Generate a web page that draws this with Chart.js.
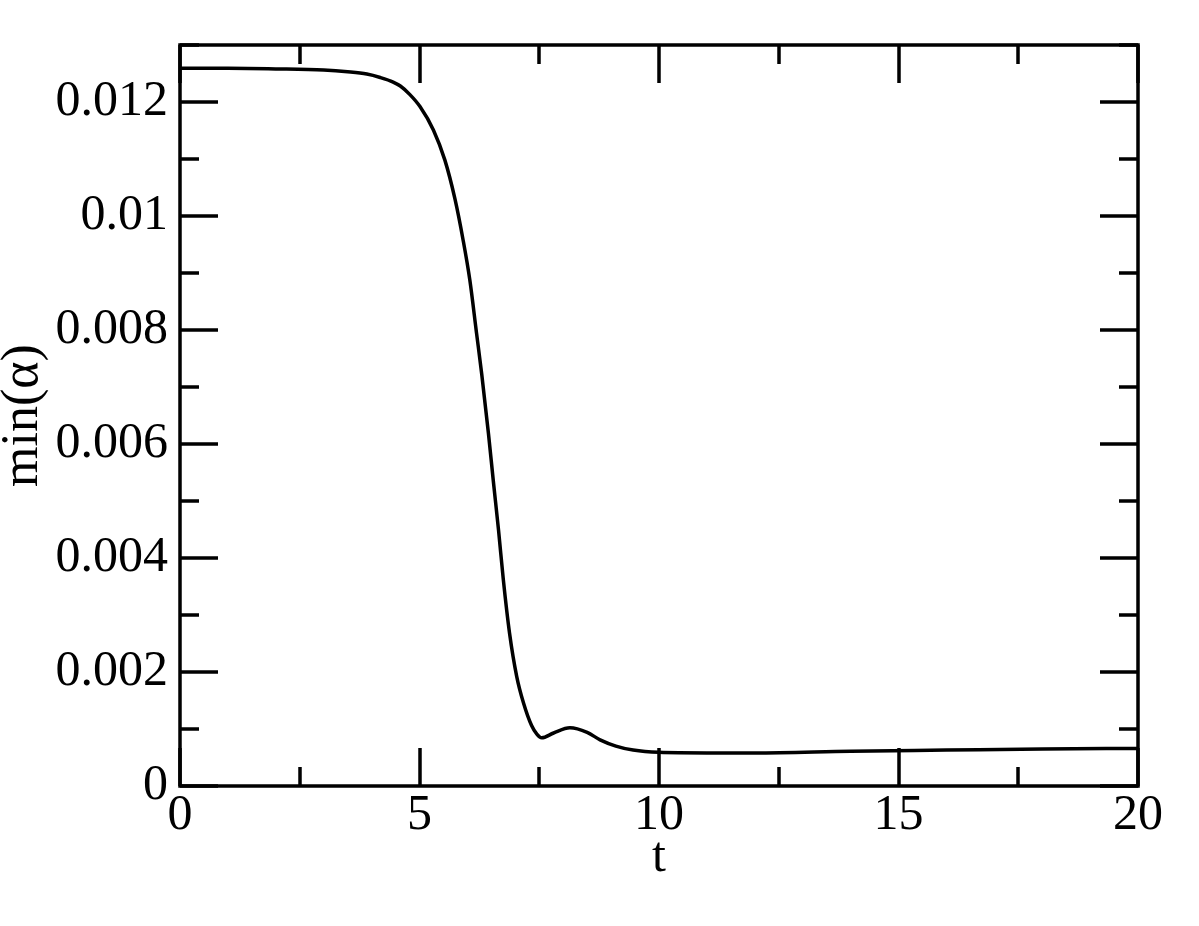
<!DOCTYPE html>
<html>
<head>
<meta charset="utf-8">
<script src="https://cdn.jsdelivr.net/npm/chart.js@4"></script>
<style>
  html, body { margin: 0; padding: 0; background: #fff; }
  #wrap { width: 1199px; height: 926px; }
</style>
</head>
<body>
<div id="wrap"><canvas id="myChart" width="1199" height="926"></canvas></div>
<script>
// values
var tValues = [0, 1, 2, 3, 3.5, 3.9, 4.18, 4.45, 4.6, 4.8, 5.01, 5.29, 5.53, 5.74, 5.91, 6.05, 6.19, 6.3, 6.44,
               6.54, 6.65, 6.75, 6.88, 7.03, 7.17, 7.34, 7.45, 7.55, 7.8, 8.14, 8.5, 8.77, 9.1, 9.46, 10, 11, 12, 14, 16, 18, 20];
var alphaValues = [0.01259, 0.01259, 0.01258, 0.01256, 0.01253, 0.01249, 0.01243, 0.01235, 0.01228, 0.01213, 0.01192, 0.01151, 0.01098, 0.0103, 0.00958, 0.00888, 0.00795, 0.00722, 0.00618,
                   0.00536, 0.00449, 0.00362, 0.00268, 0.00192, 0.00146, 0.00106, 0.00091, 0.000845, 0.00093, 0.00102, 0.00094, 0.00081, 0.0007, 0.00063, 0.00059, 0.00058, 0.00058, 0.00061, 0.00063, 0.00065, 0.00066];

var xMajorStep = 5;
var yMajorStep = 0.002;

var points = tValues.map(function (t, i) { return { x: t, y: alphaValues[i] }; });

var fontFamily = "'Liberation Serif', 'DejaVu Serif', serif";

// Grace-style frame with inward major/minor ticks on all four sides
var frameTicks = {
    id: "frameTicks",
    afterDraw: function (chart) {
        var c = chart.ctx, a = chart.chartArea;
        var xs = chart.scales.x, ys = chart.scales.y;
        c.save();
        c.strokeStyle = "#000";
        c.lineWidth = 3.5;
        c.lineCap = "butt";
        c.strokeRect(a.left, a.top, a.right - a.left, a.bottom - a.top);
        c.beginPath();
        xs.ticks.forEach(function (tk) {
            var px = Math.round(xs.getPixelForValue(tk.value));
            var len = Math.abs(Math.round(tk.value * 10) % (xMajorStep * 10)) === 0 ? 38 : 19;
            c.moveTo(px, a.bottom); c.lineTo(px, a.bottom - len);
            c.moveTo(px, a.top); c.lineTo(px, a.top + len);
        });
        ys.ticks.forEach(function (tk) {
            var py = Math.round(ys.getPixelForValue(tk.value));
            var len = Math.round(tk.value * 1000) % 2 === 0 ? 38 : 19;
            c.moveTo(a.left, py); c.lineTo(a.left + len, py);
            c.moveTo(a.right, py); c.lineTo(a.right - len, py);
        });
        c.stroke();
        c.restore();
    }
};

new Chart("myChart", {
    type: "line",
    data: {
        datasets: [{
            data: points,
            borderColor: "#000",
            borderWidth: 3.5,
            pointRadius: 0,
            cubicInterpolationMode: "monotone",
            fill: false
        }]
    },
    options: {
        responsive: false,
        animation: false,
        layout: { padding: { left: 0, right: 61, top: 45, bottom: 0 } },
        plugins: {
            legend: { display: false },
            tooltip: { enabled: false }
        },
        scales: {
            x: {
                type: "linear",
                min: 0,
                max: 20,
                afterFit: function (s) { s.height = 140; },
                border: { display: false },
                grid: { display: false, drawTicks: false },
                ticks: {
                    stepSize: 2.5,
                    autoSkip: false,
                    maxRotation: 0,
                    padding: 0,
                    color: "#000",
                    font: { family: fontFamily, size: 50 },
                    callback: function (v) {
                        return Math.round(v * 10) % (xMajorStep * 10) === 0 ? String(Math.round(v)) : "";
                    }
                },
                title: {
                    display: true,
                    text: "t",
                    color: "#000",
                    font: { family: fontFamily, size: 50 },
                    padding: { top: 0, bottom: 38 }
                }
            },
            y: {
                type: "linear",
                min: 0,
                max: 0.013,
                afterFit: function (s) { s.width = 180; },
                border: { display: false },
                grid: { display: false, drawTicks: false },
                ticks: {
                    stepSize: 0.001,
                    autoSkip: false,
                    padding: 12,
                    color: "#000",
                    font: { family: fontFamily, size: 50 },
                    callback: function (v) {
                        var m = Math.round(v * 1000);
                        if (m % (yMajorStep * 1000) !== 0) return "";
                        return String(parseFloat((m / 1000).toFixed(3)));
                    }
                },
                title: {
                    display: true,
                    text: "min(α)",
                    color: "#000",
                    font: { family: fontFamily, size: 52, lineHeight: 0.9 },
                    padding: { top: 0, bottom: 0 }
                }
            }
        }
    },
    plugins: [frameTicks]
});
</script>
</body>
</html>
